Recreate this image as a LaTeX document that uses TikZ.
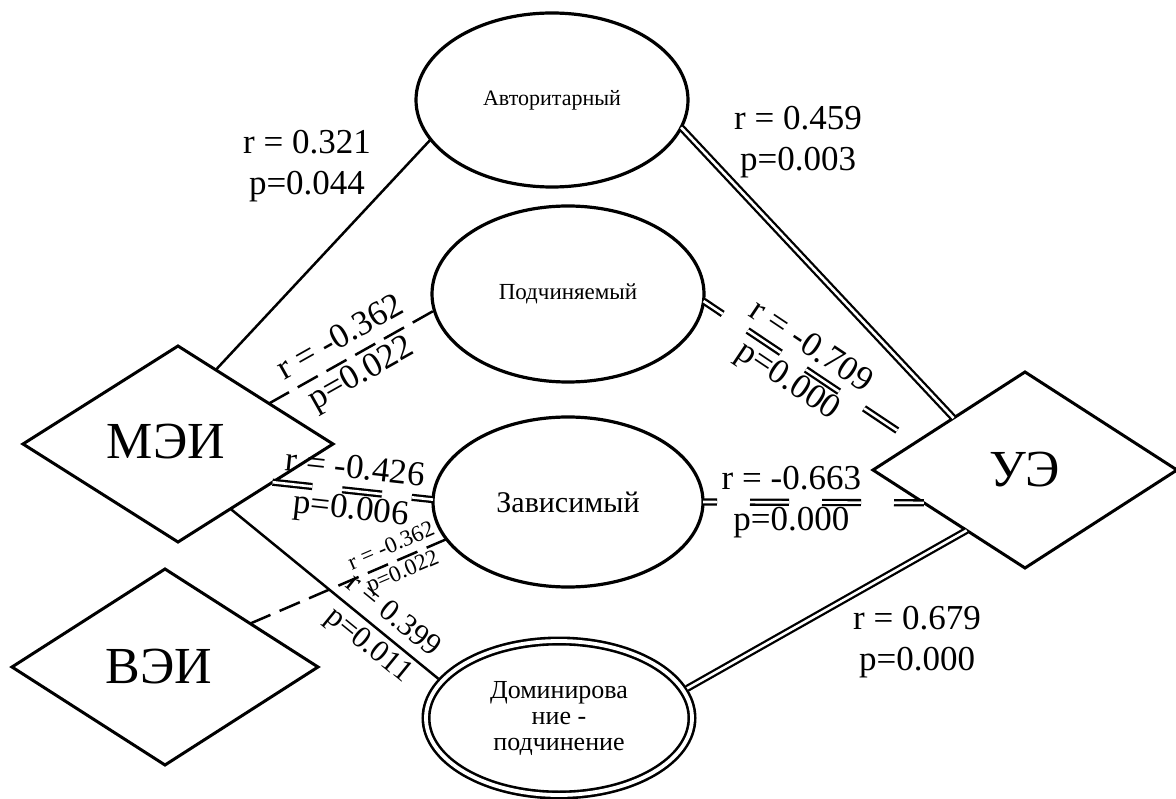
\documentclass[tikz,border=0pt]{standalone}
\usepackage{fontspec}
\setmainfont{Liberation Serif}
\usetikzlibrary{shapes.geometric}

\begin{document}
\begin{tikzpicture}[x=1pt,y=-1pt,
  romb/.style={diamond, draw, line width=3pt, inner sep=0pt, outer sep=0pt,
    minimum height=196pt, font=\fontsize{52}{52}\selectfont},
  oval/.style={ellipse, draw, line width=3.2pt, inner sep=0pt, outer sep=0pt,
    minimum width=272pt, minimum height=174pt},
  val/.style={align=center, inner sep=0pt, font=\fontsize{35}{41}\selectfont},
  link/.style={line width=2.5pt},
  dlink/.style={double, line width=2.3pt, double distance=2.6pt},
  dashlink/.style={line width=2.5pt, dash pattern=on 23pt off 10pt},
  ddash/.style={dlink, dash pattern=on 40pt off 30pt}]

\useasboundingbox (0,0) rectangle (1176,799);

% scales
\node [romb, minimum width=310pt] (mei) at (178,444) {\raisebox{6pt}{МЭИ}\hspace*{24pt}};
\node [romb, minimum width=306pt] (vei) at (165,667) {ВЭИ\hspace*{12pt}};
\node [romb, minimum width=304pt] (ue)  at (1025,470) {УЭ};

% styles
\node [oval, font=\fontsize{22}{22}\selectfont] (avt) at (552,100) {Авторитарный};
\node [oval, minimum height=176pt, font=\fontsize{23}{23}\selectfont] (podch) at (568,294) {Подчиняемый};
\node [oval, minimum width=270pt, minimum height=170pt, font=\fontsize{30}{30}\selectfont] (zav) at (568,502) {Зависимый};
\node [oval, double, line width=2.6pt, double distance=3.8pt, outer sep=4.5pt,
  minimum width=266pt, minimum height=154pt, align=center,
  font=\fontsize{26}{26}\selectfont] (dom) at (559,718) {Доминирова\\ние -\\подчинение};

% correlations
\draw [link] (mei.63) -- (avt.198);
\draw [dashlink] (mei.24) -- node [val, sloped] (l2) {r = -0.362\\p=0.022} (podch.187);
\draw [ddash] (mei.-22) -- node [val, sloped] (l3) {r = -0.426\\p=0.006} (zav.179);
\draw [link] (mei.-51.5) -- node [val, sloped, pos=0.72, font=\fontsize{31}{38}\selectfont] (l4) {r = 0.399\\p=0.011} (dom.162.7);
\draw [line width=2.5pt, dash pattern=on 22pt off 10pt] (vei.27) -- node [val, sloped, pos=0.75, font=\fontsize{23}{28}\selectfont] (l5) {r = -0.362\\p=0.022} (zav.197);

\draw [dlink] (avt.-12.9) -- (ue.144.9);
\draw [ddash, dash phase=17pt] (podch.-3.4) -- node [val, sloped, pos=0.45] (l7) {r = -0.709\\p=0.000} (ue.166.4);
\draw [dlink, dash pattern=on 39pt off 33pt, dash phase=25pt] (zav.0) -- node [val, pos=0.4] (l8) {r = -0.663\\p=0.000} (ue.198);
\draw [dlink] (dom.13.1) -- (ue.226.4);

\node [val] (l1) at (307,166) {r = 0.321\\p=0.044};
\node [val] (l6) at (798,142) {r = 0.459\\p=0.003};
\node [val] (l9) at (917,642) {r = 0.679\\p=0.000};

\end{tikzpicture}
\end{document}
